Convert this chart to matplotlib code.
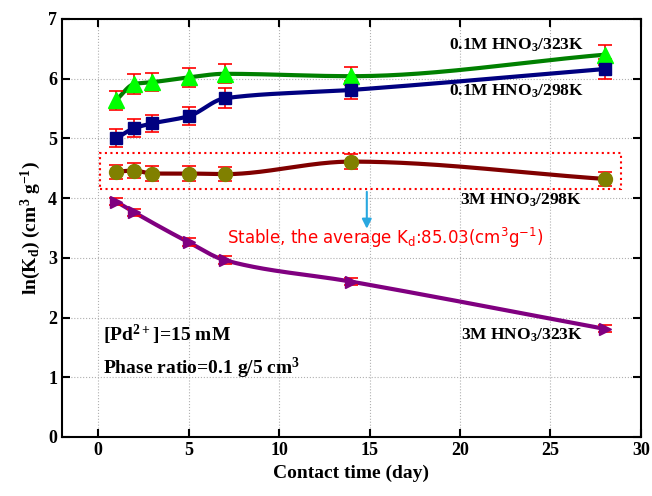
import numpy as np
import matplotlib
matplotlib.use('Agg')
import matplotlib.pyplot as plt
from matplotlib.patches import Rectangle

plt.rcParams['font.family'] = 'Liberation Serif'
plt.rcParams['mathtext.fontset'] = 'custom'
plt.rcParams['mathtext.rm'] = 'Liberation Serif:bold'
plt.rcParams['mathtext.bf'] = 'Liberation Serif:bold'
plt.rcParams['mathtext.default'] = 'rm'

# data
days = [1, 2, 3, 5, 7, 14, 28]
hno3_01_323 = [5.64, 5.91, 5.94, 6.02, 6.08, 6.04, 6.40]
err_01_323 = [0.16, 0.16, 0.15, 0.16, 0.16, 0.15, 0.17]
hno3_01_298 = [5.00, 5.17, 5.25, 5.37, 5.67, 5.81, 6.16]
err_01_298 = [0.15, 0.15, 0.14, 0.15, 0.17, 0.15, 0.17]
hno3_3_298 = [4.44, 4.46, 4.41, 4.41, 4.40, 4.61, 4.32]
err_3_298 = [0.12, 0.12, 0.12, 0.12, 0.12, 0.12, 0.11]
days_3_323 = [1, 2, 5, 7, 14, 28]
hno3_3_323 = [3.94, 3.76, 3.26, 2.96, 2.60, 1.81]
err_3_323 = [0.06, 0.06, 0.07, 0.07, 0.06, 0.06]


def pchip(x, y, xs):
    # monotone piecewise cubic through the points
    x = np.asarray(x, float)
    y = np.asarray(y, float)
    h = np.diff(x)
    d = np.diff(y) / h
    m = np.zeros_like(y)
    m[0], m[-1] = d[0], d[-1]
    for k in range(1, len(x) - 1):
        if d[k - 1] * d[k] > 0:
            w1 = 2 * h[k] + h[k - 1]
            w2 = h[k] + 2 * h[k - 1]
            m[k] = (w1 + w2) / (w1 / d[k - 1] + w2 / d[k])
    idx = np.clip(np.searchsorted(x, xs) - 1, 0, len(x) - 2)
    t = (xs - x[idx]) / h[idx]
    h00 = 2 * t**3 - 3 * t**2 + 1
    h10 = t**3 - 2 * t**2 + t
    h01 = -2 * t**3 + 3 * t**2
    h11 = t**3 - t**2
    return h00 * y[idx] + h10 * h[idx] * m[idx] + h01 * y[idx + 1] + h11 * h[idx] * m[idx + 1]


xs = np.linspace(1, 28, 300)

fig, ax = plt.subplots(figsize=(6.52, 4.96), dpi=100)
fig.subplots_adjust(left=0.095, right=0.983, bottom=0.119, top=0.962)

ax.grid(True, linestyle=':', color='#b0b0b0', linewidth=0.8)
ax.set_axisbelow(True)

# smooth lines
ax.plot(xs, pchip(days, hno3_01_323, xs), color='#008000', lw=3, zorder=2)
ax.plot(xs, pchip(days, hno3_01_298, xs), color='#000080', lw=3, zorder=2)
ax.plot(xs, pchip(days, hno3_3_298, xs), color='#800000', lw=3, zorder=2)
ax.plot(xs, pchip(days_3_323, hno3_3_323, xs), color='#800080', lw=3, zorder=2)

# markers with error bars
ebar = dict(ecolor='red', elinewidth=1.2, capsize=5, capthick=1.2, zorder=3)
ax.errorbar(days, hno3_01_323, yerr=err_01_323, fmt='^', color='#00ff00', ms=12, **ebar)
ax.errorbar(days, hno3_01_298, yerr=err_01_298, fmt='s', color='#000080', ms=9, **ebar)
ax.errorbar(days, hno3_3_298, yerr=err_3_298, fmt='o', color='#808000', ms=10, **ebar)
ax.errorbar(days_3_323, hno3_3_323, yerr=err_3_323, fmt='>', color='#800080', ms=9, **ebar)

# dotted box and arrow
ax.add_patch(Rectangle((0.1, 4.15), 28.8, 0.6, fill=False, edgecolor='red',
                       linestyle=':', linewidth=1.5, zorder=4))
ax.annotate('', xy=(14.85, 3.44), xytext=(14.85, 4.15),
            arrowprops=dict(arrowstyle='-|>', color='#29a8e0', lw=1.5, mutation_scale=14))
ax.text(7.1, 3.33, 'Stable, the average K$_d$:85.03(cm$^3$g$^{-1}$)', color='red',
        fontsize=12, family='DejaVu Sans', math_fontfamily='dejavusans', va='center')

# series labels
lab = dict(fontsize=12.5, fontweight='bold', va='center')
ax.text(19.4, 6.56, '0.1M HNO$_3$/323K', **lab)
ax.text(19.4, 5.78, '0.1M HNO$_3$/298K', **lab)
ax.text(20.0, 3.97, '3M HNO$_3$/298K', **lab)
ax.text(20.05, 1.71, '3M HNO$_3$/323K', **lab)
ax.text(0.25, 1.71, '[Pd$^{2+}$]=15 mM', fontsize=14, fontweight='bold', va='center')
ax.text(0.25, 1.14, 'Phase ratio=0.1 g/5 cm$^3$', fontsize=14, fontweight='bold', va='center')

ax.set_xlim(-2, 30)
ax.set_ylim(0, 7)
ax.set_xticks(np.arange(0, 31, 5))
ax.set_yticks(np.arange(0, 8, 1))
ax.tick_params(direction='in', top=True, right=True, length=6, width=1.5, labelsize=13)
plt.setp(ax.get_xticklabels() + ax.get_yticklabels(), fontweight='bold')
for s in ax.spines.values():
    s.set_linewidth(1.5)
ax.set_xlabel('Contact time (day)', fontsize=14, fontweight='bold')
ax.set_ylabel('ln(K$_d$) (cm$^3$ g$^{-1}$)', fontsize=14, fontweight='bold')

fig.savefig('out.png', dpi=100)
